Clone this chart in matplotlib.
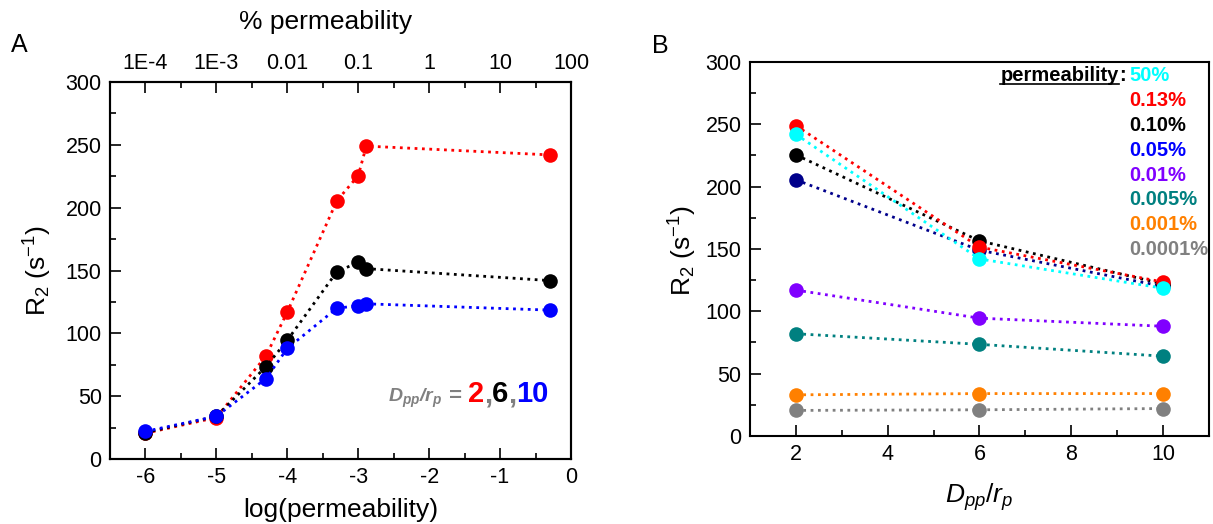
import numpy as np
import matplotlib
matplotlib.use("Agg")
import matplotlib.pyplot as plt

from matplotlib.ticker import MultipleLocator
from matplotlib.offsetbox import TextArea, HPacker, AnnotationBbox
from matplotlib.lines import Line2D

plt.rcParams['font.family'] = 'sans-serif'
plt.rcParams['font.sans-serif'] = ['Liberation Sans', 'DejaVu Sans']
plt.rcParams['mathtext.fontset'] = 'custom'
plt.rcParams['axes.unicode_minus'] = False

# permeability (%) of the particle shell
perm_pct = [0.0001, 0.001, 0.005, 0.01, 0.05, 0.10, 0.13, 50]
perm_labels = ['0.0001%', '0.001%', '0.005%', '0.01%', '0.05%', '0.10%', '0.13%', '50%']
top_tick_labels = ['1E-4', '1E-3', '0.01', '0.1', '1', '10', '100']

# inter-particle distance / particle radius
dpp_rp = [2, 6, 10]

# R2 (1/s) for each permeability, one list per Dpp/rp
r2_dpp2 = [20.5, 33, 82, 117, 205.5, 225.5, 249, 242]
r2_dpp6 = [21, 34, 73.5, 94.5, 149, 156.5, 151.5, 142]
r2_dpp10 = [22, 34, 64, 88, 120, 122, 123.5, 118.5]

dpp_colors = ['#FF0000', '#000000', '#0000FF']
perm_colors = ['#808080', '#FF8000', '#008080', '#8000FF',
               '#00008B', '#000000', '#FF0000', '#00FFFF']
perm_text_colors = ['#808080', '#FF8000', '#008080', '#8000FF',
                    '#0000FF', '#000000', '#FF0000', '#00FFFF']

log_perm = np.log10(np.array(perm_pct) / 100.0)
r2 = np.array([r2_dpp2, r2_dpp6, r2_dpp10])

TICK_FS = 15.5
LABEL_FS = 19
KEY_FS = 14.5
MS = 10.5


def style_axes(ax):
    for s in ax.spines.values():
        s.set_linewidth(1.5)
    ax.tick_params(which='both', direction='in', labelsize=TICK_FS, width=1.2, pad=6)
    ax.tick_params(which='major', length=8)
    ax.tick_params(which='minor', length=4.5)


fig = plt.figure(figsize=(12.13, 5.24), dpi=100)
axA = fig.add_axes([0.0907, 0.124, 0.380, 0.7195])
axB = fig.add_axes([0.6183, 0.168, 0.3784, 0.7137])

# ---- panel A: R2 vs log(permeability)
for row, c in zip(r2, dpp_colors):
    axA.plot(log_perm, row, ':', color=c, lw=2, marker='o', ms=MS, mec=c, mew=0)

axA.set_xlim(-6.5, 0)
axA.set_ylim(0, 300)
axA.xaxis.set_major_locator(MultipleLocator(1))
axA.xaxis.set_minor_locator(MultipleLocator(0.5))
axA.yaxis.set_major_locator(MultipleLocator(50))
axA.yaxis.set_minor_locator(MultipleLocator(25))
style_axes(axA)
axA.set_xlabel('log(permeability)', fontsize=LABEL_FS, va='center')
axA.xaxis.set_label_coords(0.5, -0.135)
axA.set_ylabel('R$_2$ (s$^{-1}$)', fontsize=LABEL_FS, va='center')
axA.yaxis.set_label_coords(-0.157, 0.5)

top = axA.twiny()
top.set_xlim(axA.get_xlim())
top.set_xticks(np.log10(np.logspace(-6, 0, 7)))
top.set_xticklabels(top_tick_labels)
top.xaxis.set_minor_locator(MultipleLocator(0.5))
style_axes(top)
top.set_xlabel('% permeability', fontsize=LABEL_FS, va='center')
top.xaxis.set_label_coords(0.467, 1.159)

# coloured Dpp/rp key
gray = dict(color='#808080', fontsize=14, fontweight='bold')
parts = [TextArea(r'$\mathbfit{D_{pp}/r_p}$', textprops=gray),
         TextArea('\u00a0=\u00a0', textprops=dict(gray, fontsize=16))]
for s, c in [('2', dpp_colors[0]), (',', '#808080'), ('6', dpp_colors[1]),
             (',', '#808080'), ('10', dpp_colors[2])]:
    parts.append(TextArea(s, textprops=dict(color=c, fontsize=21, fontweight='bold')))
key = HPacker(children=parts, align='baseline', pad=0, sep=0)
axA.add_artist(AnnotationBbox(key, (-2.58, 39), xycoords='data', box_alignment=(0, 0),
                              frameon=False, pad=0))

# ---- panel B: R2 vs Dpp/rp
for i, c in enumerate(perm_colors):
    axB.plot(dpp_rp, r2[:, i], ':', color=c, lw=2, marker='o', ms=MS, mec=c, mew=0)

axB.set_xlim(1, 11)
axB.set_ylim(0, 300)
axB.xaxis.set_major_locator(MultipleLocator(2))
axB.xaxis.set_minor_locator(MultipleLocator(1))
axB.yaxis.set_major_locator(MultipleLocator(50))
axB.yaxis.set_minor_locator(MultipleLocator(25))
style_axes(axB)
axB.set_xlabel(r'$D_{pp}/r_p$', fontsize=LABEL_FS, va='center')
axB.xaxis.set_label_coords(0.5, -0.163)
axB.set_ylabel('R$_2$ (s$^{-1}$)', fontsize=LABEL_FS, va='center')
axB.yaxis.set_label_coords(-0.146, 0.497)

# permeability key, highest on top
x_key, y_key, step = 0.826, 0.965, 0.0668
for k, i in enumerate(range(len(perm_labels) - 1, -1, -1)):
    axB.text(x_key, y_key - k * step, perm_labels[i], color=perm_text_colors[i],
             fontsize=KEY_FS, fontweight='bold', ha='left', va='center',
             transform=axB.transAxes)
colon = axB.text(x_key - 0.008, y_key, ':', fontsize=KEY_FS, fontweight='bold',
                 ha='right', va='center', transform=axB.transAxes)
head = axB.annotate('permeability', xy=(0, 0.5), xycoords=colon, fontsize=KEY_FS,
                    fontweight='bold', ha='right', va='center')

fig.text(19 / 1213, 1 - 45 / 524, 'A', fontsize=18, ha='center', va='center')
fig.text(660 / 1213, 1 - 46 / 524, 'B', fontsize=18, ha='center', va='center')

# underline the key heading
fig.canvas.draw()
bb = head.get_window_extent()
inv = fig.transFigure.inverted()
(x0, y0), (x1, _) = inv.transform([(bb.x0, bb.y0 + 1), (bb.x1, bb.y0 + 1)])
fig.add_artist(Line2D([x0, x1], [y0, y0], color='black', lw=1.2, transform=fig.transFigure))

fig.savefig('out.png', dpi=100)
